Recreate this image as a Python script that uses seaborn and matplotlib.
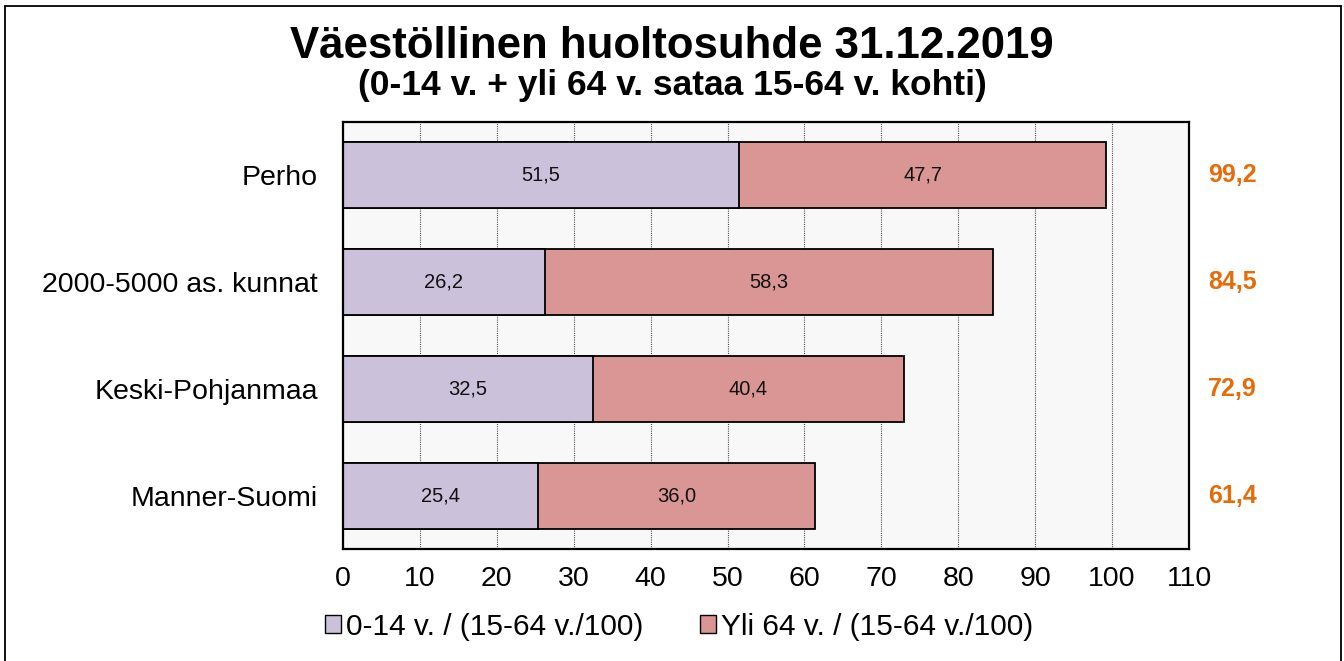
import seaborn as sns
import matplotlib.pyplot as plt
import pandas as pd
from matplotlib.patches import Patch
from matplotlib.lines import Line2D

areas = ["Perho", "2000-5000 as. kunnat", "Keski-Pohjanmaa", "Manner-Suomi"]
young = [51.5, 26.2, 32.5, 25.4]
old = [47.7, 58.3, 40.4, 36.0]
totals = [99.2, 84.5, 72.9, 61.4]
legend_labels = ["0-14 v. / (15-64 v./100)", "Yli 64 v. / (15-64 v./100)"]

C_YOUNG = "#CCC1DA"
C_OLD = "#D99694"
C_TOTAL = "#E46C0A"


def fmt(v):
    return f"{v:.1f}".replace(".", ",")


def main():
    sns.set_style("white")
    plt.rcParams["font.family"] = ["Liberation Sans", "DejaVu Sans"]
    plt.rcParams["text.color"] = "black"
    plt.rcParams["xtick.color"] = "black"
    plt.rcParams["ytick.color"] = "black"

    df = pd.DataFrame({"area": areas, "young": young, "old": old})
    df["sum"] = df["young"] + df["old"]

    fig = plt.figure(figsize=(13.44, 6.61), dpi=100)
    ax = fig.add_axes([0.2552, 0.1694, 0.6295, 0.646])
    ax.set_facecolor("#F8F8F8")

    sns.barplot(data=df, y="area", x="sum", orient="h", color=C_OLD,
                width=0.62, edgecolor="black", linewidth=1.3, saturation=1, ax=ax)
    sns.barplot(data=df, y="area", x="young", orient="h", color=C_YOUNG,
                width=0.62, edgecolor="black", linewidth=1.3, saturation=1, ax=ax)

    for i in range(len(areas)):
        ax.text(young[i] / 2, i, fmt(young[i]), ha="center", va="center",
                fontsize=14.5, color="#111111")
        ax.text(young[i] + old[i] / 2, i, fmt(old[i]), ha="center", va="center",
                fontsize=14.5, color="#111111")
        ax.text(1.0225, i, fmt(totals[i]), transform=ax.get_yaxis_transform(),
                ha="left", va="center", fontsize=18, fontweight="bold", color=C_TOTAL)

    ax.set_xlim(0, 110)
    ax.set_ylim(3.5, -0.5)
    ax.set_xticks(range(0, 111, 10))
    ax.set_xlabel("")
    ax.set_ylabel("")
    ax.tick_params(axis="x", labelsize=20.5, pad=12, length=0)
    ax.tick_params(axis="y", labelsize=20.5, pad=18, length=0)
    ax.xaxis.grid(True, color="#555555", linestyle=(0, (1, 1)), linewidth=0.8)
    ax.set_axisbelow(True)
    for s in ax.spines.values():
        s.set_visible(True)
        s.set_color("black")
        s.set_linewidth(1.6)

    fig.text(0.5, 0.929, "Väestöllinen huoltosuhde 31.12.2019", ha="center", va="center",
             fontsize=31.5, fontweight="bold")
    fig.text(0.5, 0.871, "(0-14 v. + yli 64 v. sataa 15-64 v. kohti)", ha="center", va="center",
             fontsize=25.5, fontweight="bold")

    handles = [Patch(facecolor=C_YOUNG, edgecolor="black", linewidth=1),
               Patch(facecolor=C_OLD, edgecolor="black", linewidth=1)]
    fig.legend(handles, legend_labels, loc="center", bbox_to_anchor=(0.505, 0.052), ncol=2,
               frameon=False, fontsize=21.5, handlelength=0.55, handleheight=0.55,
               handletextpad=0.15, columnspacing=1.9)

    bx0, bx1, by1 = 5 / 1344, 1341 / 1344, 1 - 6 / 661
    for xs, ys in [([bx0, bx0], [0, by1]), ([bx0, bx1], [by1, by1]), ([bx1, bx1], [by1, 0])]:
        fig.add_artist(Line2D(xs, ys, color="black", linewidth=1.3, transform=fig.transFigure))

    fig.savefig("out.png", dpi=100)


if __name__ == '__main__':
    main()
